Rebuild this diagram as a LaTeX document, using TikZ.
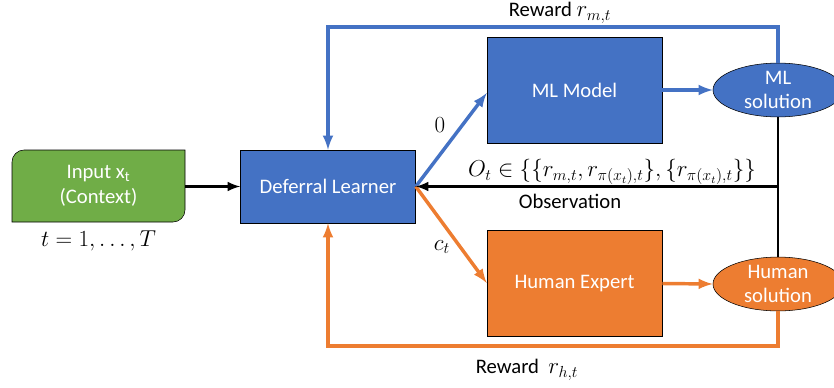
\documentclass[tikz,border=0pt]{standalone}
\usepackage{fontspec}
\setmainfont{Carlito}
\usetikzlibrary{arrows}
\usetikzlibrary{positioning, shapes.geometric}

\definecolor{mlblue}{HTML}{4472C4}
\definecolor{hmorange}{HTML}{ED7D31}
\definecolor{ctxgreen}{HTML}{70AD47}

\begin{document}
\begin{tikzpicture}[x=0.75pt,y=0.75pt]
\tikzset{
  lbl/.style={font=\fontsize{15.5}{18.5}\selectfont},
  mlbl/.style={font=\fontsize{17}{20}\selectfont},
  block/.style={lbl, draw=black, thin, text=white, minimum width=131.25pt, align=center, inner sep=0pt},
  sol/.style={lbl, ellipse, draw=black, thin, text=white, minimum width=97.5pt, minimum height=37.5pt, align=center, inner sep=0pt},
  link/.style={line width=2.2pt, ->, >=latex},
  clink/.style={link, line width=2.6pt}
}
\useasboundingbox (0,0) rectangle (834,387);

\coordinate (inC) at (98.5,201);
\coordinate (tC) at (98.5,146);
\coordinate (dlC) at (328,200.5);
\coordinate (mlC) at (574.5,297);
\coordinate (heC) at (574.5,103.5);
\coordinate (msC) at (778,297);
\coordinate (hsC) at (778,103);
\coordinate (inE) at (185,200.5);
\coordinate (obs) at (778,200.5);
\coordinate (topbend) at (328,360);
\coordinate (botbend) at (328,41);

% context box, two rounded corners
\filldraw[fill=ctxgreen, draw=black, thin] (12,165) -- (12,225) arc[start angle=180, end angle=90, radius=12]
  -- (185,237) -- (185,177) arc[start angle=0, end angle=-90, radius=12] -- cycle;
\node[lbl, text=white, align=center] (input) at (inC) {Input x\textsubscript{t}\\(Context)};
\node[mlbl] (trange) at (tC) {$t=1,\dots,T$};

\node[block, fill=mlblue, minimum height=54.75pt] (dl) at (dlC) {Deferral Learner};
\node[block, fill=mlblue, minimum height=79.5pt] (ml) at (mlC) {ML Model};
\node[block, fill=hmorange, minimum height=79.5pt] (he) at (heC) {Human Expert};
\node[sol, fill=mlblue] (mlsol) at (msC) {ML\\solution};
\node[sol, fill=hmorange] (hsol) at (hsC) {Human\\solution};

\draw[link] (inE) -- (dl.west);
\draw[clink, mlblue] (dl.east) -- (ml.west |- 0,294);
\draw[clink, hmorange] (dl.east) -- (he.west |- 0,104);
\draw[clink, mlblue] (ml.east) -- (mlsol.west);
\draw[clink, hmorange] (he.east) -- (hsol.west);

\draw[line width=2.2pt] (mlsol.south) -- (hsol.north);
\draw[link] (obs) -- (dl.east);

\draw[clink, mlblue] (mlsol.north) |- (topbend) -- (dl.north);
\draw[clink, hmorange] (hsol.south) |- (botbend) -- (dl.south);

\node[mlbl] (zero) at (440,262) {$0$};
\node[mlbl] (ct) at (442,140) {$c_t$};
\node[lbl] (rwm) at (560,374) {Reward \fontsize{17}{20}\selectfont$r_{m,t}$};
\node[lbl] (rwh) at (527,17) {Reward\ \ \fontsize{17}{20}\selectfont$r_{h,t}$};
\node[mlbl] (otset) at (612,215) {$O_t \in \{\{r_{m,t}, r_{\pi(x_t),t}\}, \{r_{\pi(x_t),t}\}\}$};
\node[lbl] (obslbl) at (570,186) {Observation};
\end{tikzpicture}
\end{document}
